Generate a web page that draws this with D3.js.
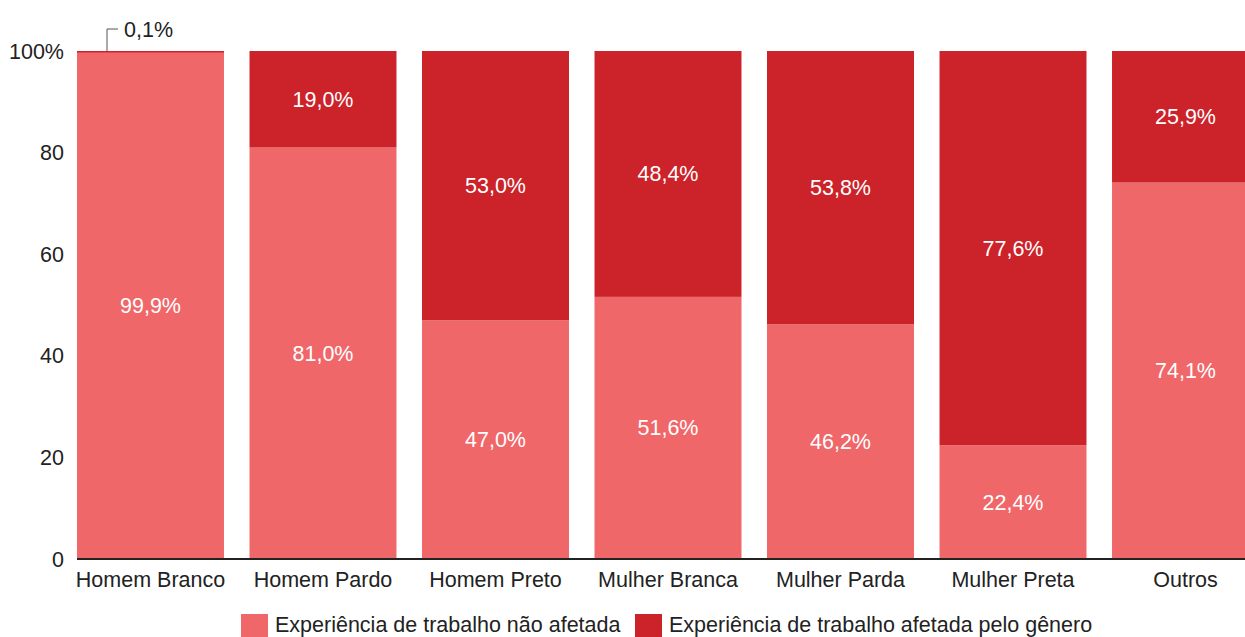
<!DOCTYPE html>
<html>
  <head>
    <script src="https://d3js.org/d3.v7.min.js"></script>
    <style>
      body { margin: 0; background: #fff; }
      text { font-family: "Liberation Sans", Arial, sans-serif; }
    </style>
  </head>
  <body>
    <script>
      // data
      var categories = ["Homem Branco", "Homem Pardo", "Homem Preto", "Mulher Branca", "Mulher Parda", "Mulher Preta", "Outros"];
      var naoAfetada = [99.9, 81.0, 47.0, 51.6, 46.2, 22.4, 74.1];
      var afetada = [0.1, 19.0, 53.0, 48.4, 53.8, 77.6, 25.9];
      var seriesNames = ["Experiência de trabalho não afetada", "Experiência de trabalho afetada pelo gênero"];
      var yTicks = [0, 20, 40, 60, 80, 100];

      var colors = ["#f0676a", "#cc2229"];
      var width = 1245, height = 637;
      var fs = "21.5px";

      var svg = d3.select("body").append("svg")
          .attr("width", width)
          .attr("height", height);

      var x = d3.scaleBand()
          .domain(categories)
          .range([77, 1259])
          .paddingInner(0.148)
          .paddingOuter(0);

      var y = d3.scaleLinear()
          .domain([0, 100])
          .range([559, 51]);

      var fmt = function(v) { return v.toFixed(1).replace(".", ",") + "%"; };

      var data = categories.map(function(c, i) {
        return {cat: c, a: naoAfetada[i], b: afetada[i]};
      });

      // lower segments
      svg.selectAll(".bar-a")
          .data(data)
        .enter().append("rect")
          .attr("class", "bar-a")
          .attr("x", function(d) { return x(d.cat); })
          .attr("width", x.bandwidth())
          .attr("y", function(d) { return y(d.a); })
          .attr("height", function(d) { return y(0) - y(d.a); })
          .attr("fill", colors[0]);

      // upper segments (tiny ones kept visible as a thin line)
      svg.selectAll(".bar-b")
          .data(data)
        .enter().append("rect")
          .attr("class", "bar-b")
          .attr("x", function(d) { return x(d.cat); })
          .attr("width", x.bandwidth())
          .attr("y", function(d) { return y(d.a + d.b); })
          .attr("height", function(d) { return Math.max(1.5, y(d.a) - y(d.a + d.b)); })
          .attr("fill", colors[1]);

      // labels inside segments
      svg.selectAll(".lab-a")
          .data(data)
        .enter().append("text")
          .attr("x", function(d) { return x(d.cat) + x.bandwidth() / 2; })
          .attr("y", function(d) { return y(d.a / 2); })
          .attr("dy", "0.35em")
          .attr("text-anchor", "middle")
          .attr("fill", "#fff")
          .style("font-size", fs)
          .text(function(d) { return fmt(d.a); });

      svg.selectAll(".lab-b")
          .data(data.filter(function(d) { return d.b >= 1; }))
        .enter().append("text")
          .attr("x", function(d) { return x(d.cat) + x.bandwidth() / 2; })
          .attr("y", function(d) { return y(d.a + d.b / 2); })
          .attr("dy", "0.35em")
          .attr("text-anchor", "middle")
          .attr("fill", "#fff")
          .style("font-size", fs)
          .text(function(d) { return fmt(d.b); });

      // callout for the tiny segment
      var small = data.filter(function(d) { return d.b < 1; });
      small.forEach(function(d) {
        var lx = x(d.cat) + 30, ly = y(100);
        svg.append("path")
            .attr("d", "M" + lx + "," + ly + "V" + (ly - 22) + "H" + (lx + 11))
            .attr("fill", "none")
            .attr("stroke", "#555")
            .attr("stroke-width", 1);
        svg.append("text")
            .attr("x", lx + 17)
            .attr("y", ly - 22)
            .attr("dy", "0.35em")
            .attr("fill", "#222")
            .style("font-size", fs)
            .text(fmt(d.b));
      });

      // y axis labels
      svg.selectAll(".ytick")
          .data(yTicks)
        .enter().append("text")
          .attr("x", 64)
          .attr("y", function(d) { return y(d); })
          .attr("dy", "0.35em")
          .attr("text-anchor", "end")
          .attr("fill", "#222")
          .style("font-size", fs)
          .text(function(d) { return d === 100 ? "100%" : d; });

      // x axis
      var xAxis = svg.append("g")
          .attr("transform", "translate(0," + y(0) + ")")
          .call(d3.axisBottom(x).tickSize(0).tickPadding(13));
      xAxis.select(".domain").remove();
      xAxis.selectAll("text")
          .attr("fill", "#222")
          .style("font-size", fs)
          .style("font-family", "'Liberation Sans', Arial, sans-serif");
      svg.append("line")
          .attr("x1", 77).attr("x2", width)
          .attr("y1", y(0)).attr("y2", y(0))
          .attr("stroke", "#222")
          .attr("stroke-width", 2);

      // legend
      var legendX = [241, 635];
      seriesNames.forEach(function(n, i) {
        svg.append("rect")
            .attr("x", legendX[i]).attr("y", 614)
            .attr("width", 27).attr("height", 23)
            .attr("fill", colors[i]);
        svg.append("text")
            .attr("x", legendX[i] + 34)
            .attr("y", 624)
            .attr("dy", "0.35em")
            .attr("fill", "#222")
            .style("font-size", fs)
            .text(n);
      });
    </script>
  </body>
</html>
